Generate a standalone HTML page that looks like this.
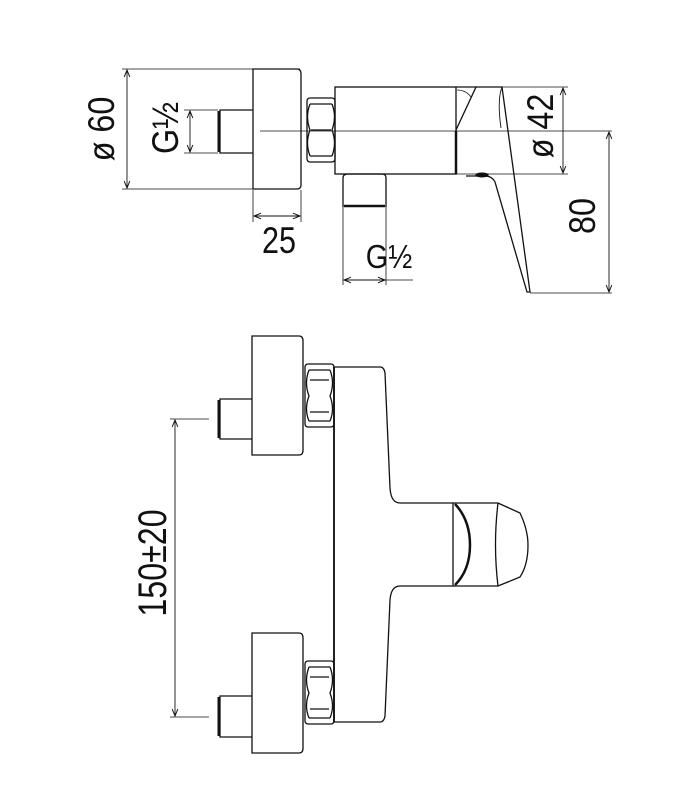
<!DOCTYPE html>
<html><head><style>
html,body{margin:0;padding:0;background:#fff;}
svg{display:block;}
text{font-family:"Liberation Sans",sans-serif;fill:#111;}
</style></head><body>
<svg width="681" height="786" viewBox="0 0 681 786" xmlns="http://www.w3.org/2000/svg">
<defs>
<marker id="a" viewBox="0 0 10 10" refX="10" refY="5" markerWidth="9" markerHeight="7" orient="auto-start-reverse" markerUnits="userSpaceOnUse"><path d="M0,1 L10,5 L0,9" fill="none" stroke="#111" stroke-width="1.4"/></marker>
</defs>
<g stroke="#111" fill="none" stroke-width="1.3">
<!-- TOP VIEW -->
<line x1="122" y1="69" x2="300" y2="69" stroke-width="0.8"/>
<line x1="122" y1="189" x2="253" y2="189" stroke-width="0.8"/>
<line x1="127" y1="70" x2="127" y2="188" stroke-width="0.9" marker-start="url(#a)" marker-end="url(#a)"/>
<path d="M253,69 H297 Q301,69 301,74 V185 Q301,189 297,189 H253 Z"/>
<path d="M253,110 H220 V153 H253"/>
<line x1="219" y1="111" x2="219" y2="152" stroke-width="3"/>
<line x1="184" y1="110" x2="218" y2="110" stroke-width="0.8"/>
<line x1="184" y1="153" x2="218" y2="153" stroke-width="0.8"/>
<line x1="190" y1="111" x2="190" y2="152" stroke-width="0.9" marker-start="url(#a)" marker-end="url(#a)"/>
<rect x="307" y="98" width="28" height="64" rx="3"/>
<path d="M310,104 H332 M310,156 H332 M310,104 Q305,117 310,130 Q305,143 310,156 M332,104 Q337,117 332,130 Q337,143 332,156 M311,130 H331"/>
<rect x="335" y="87" width="121" height="87"/>
<line x1="456" y1="131" x2="456" y2="174" stroke-width="2.5"/>
<line x1="260" y1="131" x2="612" y2="131" stroke-width="0.8"/>
<path d="M456,87 H476 L456,130"/>
<path d="M457,90 Q466,90 471,97" stroke-width="0.8"/>
<path d="M476,87 H502 L530,292 H527 L495,182 Q492,176 485,176 H466"/>
<path d="M502,87 Q497,100 501,128" stroke-width="0.9"/>
<ellipse cx="482" cy="175" rx="6" ry="1.8" fill="#111"/>
<path d="M343,207 V178 Q343,174 348,174 H382 Q386,174 386,178 V207"/>
<line x1="344" y1="206" x2="385" y2="206" stroke-width="2.5"/>
<line x1="253" y1="190" x2="253" y2="222" stroke-width="0.8"/>
<line x1="301" y1="190" x2="301" y2="222" stroke-width="0.8"/>
<line x1="254" y1="216" x2="300" y2="216" stroke-width="0.9" marker-start="url(#a)" marker-end="url(#a)"/>
<line x1="343" y1="207" x2="343" y2="285" stroke-width="0.8"/>
<line x1="386" y1="207" x2="386" y2="285" stroke-width="0.8"/>
<line x1="344" y1="280" x2="385" y2="280" stroke-width="0.9" marker-start="url(#a)" marker-end="url(#a)"/>
<line x1="385" y1="280" x2="413" y2="280" stroke-width="0.8"/>
<line x1="462" y1="87" x2="568" y2="87" stroke-width="0.8"/>
<line x1="456" y1="174" x2="568" y2="174" stroke-width="0.8"/>
<line x1="563" y1="88" x2="563" y2="173" stroke-width="0.9" marker-start="url(#a)" marker-end="url(#a)"/>
<line x1="530" y1="293" x2="612" y2="293" stroke-width="0.8"/>
<line x1="609" y1="132" x2="609" y2="292" stroke-width="0.9" marker-start="url(#a)" marker-end="url(#a)"/>

<!-- FRONT VIEW -->
<path d="M252,336 H299 Q303,336 303,341 V450 Q303,455 299,455 H252 Z"/>
<path d="M252,399 H220 V439 H252"/>
<line x1="219" y1="400" x2="219" y2="438" stroke-width="3"/>
<path d="M252,633 H299 Q303,633 303,638 V748 Q303,753 299,753 H252 Z"/>
<path d="M252,696 H220 V737 H252"/>
<line x1="219" y1="697" x2="219" y2="736" stroke-width="3"/>
<g id="nut">
<rect x="305" y="364" width="29" height="63" rx="3"/>
<path d="M309,370 H330 M309,421 H330 M309,370 Q304,383 309,396 Q304,409 309,421 M330,370 Q335,383 330,396 Q335,409 330,421 M310,380 H329 M310,412 H329"/>
</g>
<use href="#nut" transform="translate(0,297)"/>
<path d="M334,367 H380 Q384,367 385,373 L390,488 Q391,503 400,503 H453 V586 H400 Q391,586 390,600 L385,716 Q384,722 380,722 H334 Z"/>
<line x1="334" y1="367" x2="334" y2="722" stroke-width="1.8"/>
<path d="M453,503 H498 L520,513 Q528,530 528,545 Q528,565 520,577 L498,586 H453"/>
<path d="M498,503 Q493,545 498,586"/>
<path d="M455,504 Q470,520 470,545 Q470,570 455,585" stroke-width="2.5"/>
<line x1="170" y1="419" x2="209" y2="419" stroke-width="0.8"/>
<line x1="170" y1="717" x2="209" y2="717" stroke-width="0.8"/>
<line x1="175" y1="420" x2="175" y2="716" stroke-width="0.9" marker-start="url(#a)" marker-end="url(#a)"/>
</g>
<g font-size="34" text-anchor="middle">
<text transform="translate(114,129) rotate(-90) scale(0.95,1.1)">ø 60</text>
<text transform="translate(178,128) rotate(-90) scale(0.95,1.1)">G½</text>
<text transform="translate(279,253) scale(0.9,1.1)">25</text>
<text transform="translate(389,268) scale(0.9,1.05)" font-size="32">G½</text>
<text transform="translate(553,126) rotate(-90) scale(0.95,1.1)">ø 42</text>
<text transform="translate(595,216) rotate(-90) scale(0.95,1.1)">80</text>
<text transform="translate(166,563) rotate(-90) scale(0.92,1.15)" font-size="35">150±20</text>
</g>
</svg>
</body></html>
